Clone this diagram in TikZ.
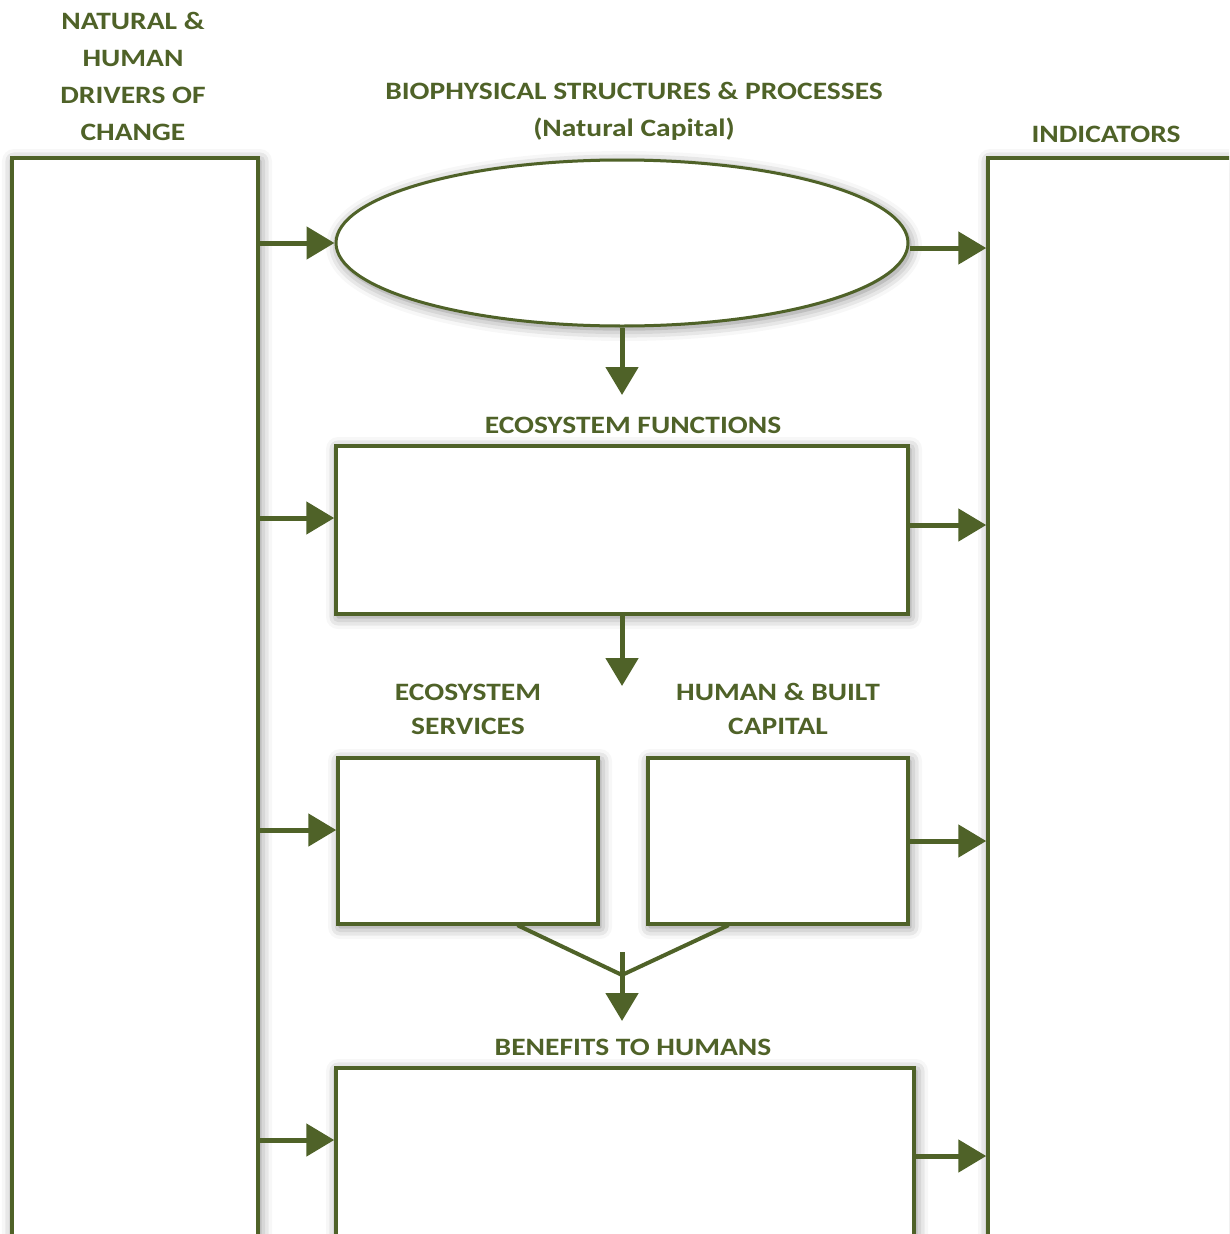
\documentclass[tikz,border=0pt]{standalone}
\usepackage{fontspec}
\setmainfont{Carlito}[FakeStretch=1.18]
\usetikzlibrary{arrows.meta,shapes.geometric,shadows.blur,calc}
\definecolor{olivedark}{RGB}{79,98,40}
\begin{document}
\begin{tikzpicture}[x=1pt,y=-1pt,
  glow/.style={blur shadow={shadow xshift=2pt,shadow yshift=-3pt,shadow blur radius=12pt,shadow opacity=50}},
  panel/.style={draw=olivedark,line width=3.5pt,fill=white,rectangle,inner sep=0pt,glow},
  oval/.style={draw=olivedark,line width=3pt,fill=white,ellipse,inner sep=0pt,glow},
  heading/.style={text=olivedark,font=\bfseries\fontsize{25}{37}\selectfont,align=center,inner sep=0pt},
  flow/.style={draw=olivedark,line width=5pt,-{Triangle[length=28pt,width=32pt]}},
  joinline/.style={draw=olivedark,line width=4pt,line cap=round}]
\useasboundingbox (0,0) rectangle (1229,1234);
\begin{scope}
\clip (0,0) rectangle (1229,1234);
% side columns (they run past the page edges)
\node[panel,minimum width=246pt,minimum height=1142pt] (drivers) at (135,729) {};
\node[panel,minimum width=312pt,minimum height=1142pt] (indic) at (1144,729) {};
% central chain
\node[oval,minimum width=572pt,minimum height=166pt] (bio) at (622,243) {};
\node[panel,minimum width=572pt,minimum height=168pt] (func) at (622,530) {};
\node[panel,minimum width=260pt,minimum height=166pt] (svc) at (468,841) {};
\node[panel,minimum width=260pt,minimum height=166pt] (hbc) at (778,841) {};
\node[panel,minimum width=578pt,minimum height=200pt] (ben) at (625,1168) {};
\end{scope}

% headings
\node[heading] (tdrivers) at (133,76) {NATURAL \&\\HUMAN\\DRIVERS OF\\CHANGE};
\node[heading] (tbio) at (634,111) {BIOPHYSICAL STRUCTURES \& PROCESSES\\(Natural Capital)};
\node[heading] (tindic) at (1106,134) {INDICATORS};
\node[heading] (tfunc) at (633,425) {ECOSYSTEM FUNCTIONS};
\node[heading,font=\bfseries\fontsize{25}{34}\selectfont] (tsvc) at (468,709) {ECOSYSTEM\\SERVICES};
\node[heading,font=\bfseries\fontsize{25}{34}\selectfont] (thbc) at (778,709) {HUMAN \& BUILT\\CAPITAL};
\node[heading] (tben) at (633,1047) {BENEFITS TO HUMANS};

% drivers feed every stage
\draw[flow] (drivers.east |- bio.west) -- (bio.west);
\draw[flow] ([yshift=12pt]drivers.east |- func.west) -- ([yshift=12pt]func.west);
\draw[flow] ([yshift=11pt]drivers.east |- svc.west) -- ([yshift=11pt]svc.west);
\draw[flow] (drivers.east |- 0,1140) -- (ben.west |- 0,1140);

% every stage is tracked by indicators
\draw[flow] ([yshift=-5pt]bio.east) -- ([yshift=-5pt]indic.west |- bio.east);
\draw[flow] ([yshift=5pt]func.east) -- ([yshift=5pt]indic.west |- func.east);
\draw[flow] (hbc.east) -- (indic.west |- hbc.east);
\draw[flow] (ben.east |- 0,1156) -- (indic.west |- 0,1156);

% downward chain
\coordinate (biofoot) at (622,395);
\coordinate (funcfoot) at (622,686);
\draw[flow] (bio.south) -- (biofoot);
\draw[flow] (func.south) -- (funcfoot);

% services and built capital merge into benefits
\coordinate (merge) at (622,975);
\coordinate (svcout) at ($(svc.south west)!0.692!(svc.south east)$);
\coordinate (hbcout) at ($(hbc.south west)!0.308!(hbc.south east)$);
\draw[joinline] (svcout) -- (merge) -- (hbcout);
\coordinate (mergetop) at (622,952);
\coordinate (benin) at (622,1021);
\draw[flow] (mergetop) -- (benin);
\end{tikzpicture}
\end{document}
